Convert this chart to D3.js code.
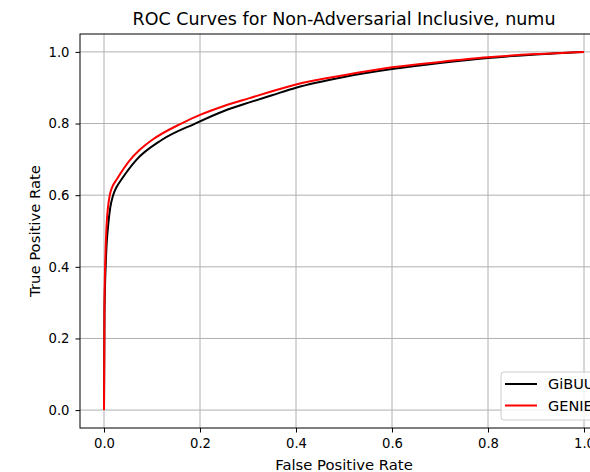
<!DOCTYPE html>
<html lang="en">
<head>
    <meta charset="UTF-8">
    <title>ROC Curves</title>
    <style>
        body { margin: 0; background: #fff; }
        text { font-family: "DejaVu Sans", sans-serif; fill: #000; }
    </style>
</head>
<body>
<div id="chart"></div>
<script src="https://cdn.jsdelivr.net/npm/d3@7"></script>
<script>
    const width = 590,
        height = 472;
    const margin = {"top": 34, "left": 80, "bottom": 44, "right": -18};

    // values
    const seriesNames = ["GiBUU", "GENIE"];
    const seriesColors = ["black", "red"];
    const gibuuFpr = [0, 0.001, 0.004, 0.009, 0.013, 0.019, 0.026, 0.036, 0.067, 0.12, 0.19, 0.25, 0.303, 0.35, 0.4, 0.5, 0.6, 0.7, 0.8, 0.9, 1.0];
    const gibuuTpr = [0, 0.27, 0.42, 0.52, 0.565, 0.6, 0.622, 0.643, 0.698, 0.754, 0.8, 0.835, 0.859, 0.879, 0.9, 0.93, 0.952, 0.969, 0.983, 0.993, 1.0];
    const genieFpr = [0, 0.001, 0.003, 0.006, 0.008, 0.012, 0.018, 0.026, 0.054, 0.074, 0.1, 0.161, 0.2, 0.25, 0.303, 0.35, 0.4, 0.5, 0.6, 0.7, 0.8, 0.9, 1.0];
    const genieTpr = [0, 0.3, 0.43, 0.53, 0.562, 0.6, 0.625, 0.643, 0.698, 0.726, 0.754, 0.8, 0.824, 0.849, 0.871, 0.89, 0.909, 0.935, 0.957, 0.972, 0.985, 0.994, 1.0];
    const xTicks = [0, 0.2, 0.4, 0.6, 0.8, 1.0];
    const yTicks = [0, 0.2, 0.4, 0.6, 0.8, 1.0];

    const series = [
        gibuuFpr.map((x, i) => ({"x": x, "y": gibuuTpr[i]})),
        genieFpr.map((x, i) => ({"x": x, "y": genieTpr[i]}))
    ];

    const innerW = width - margin.left - margin.right,
        innerH = height - margin.top - margin.bottom;

    const xScale = d3.scaleLinear().domain([-0.05, 1.05]).range([0, innerW]);
    const yScale = d3.scaleLinear().domain([-0.05, 1.05]).range([innerH, 0]);

    const line = d3.line()
        .x(d => xScale(d.x))
        .y(d => yScale(d.y))
        .curve(d3.curveMonotoneX);

    const svg = d3.select("#chart")
        .append("svg")
        .attr("width", width)
        .attr("height", height)
        .style("display", "block")
        .style("background-color", "#fff");

    const g = svg.append("g")
        .attr("transform", `translate(${margin.left},${margin.top})`);

    // grid
    g.append("g")
        .selectAll("line")
        .data(xTicks)
        .join("line")
        .attr("x1", d => xScale(d)).attr("x2", d => xScale(d))
        .attr("y1", 0).attr("y2", innerH)
        .style("stroke", "#b0b0b0").style("stroke-width", 1);
    g.append("g")
        .selectAll("line")
        .data(yTicks)
        .join("line")
        .attr("x1", 0).attr("x2", innerW)
        .attr("y1", d => yScale(d)).attr("y2", d => yScale(d))
        .style("stroke", "#b0b0b0").style("stroke-width", 1);

    // curves
    g.append("g")
        .selectAll("path")
        .data(series)
        .join("path")
        .attr("d", line)
        .style("fill", "none")
        .style("stroke", (d, i) => seriesColors[i])
        .style("stroke-width", 2);

    // axes
    const xAxis = d3.axisBottom(xScale).tickValues(xTicks).tickFormat(d3.format(".1f")).tickSize(4.5).tickPadding(6);
    const yAxis = d3.axisLeft(yScale).tickValues(yTicks).tickFormat(d3.format(".1f")).tickSize(4.5).tickPadding(6);

    g.append("g")
        .attr("transform", `translate(0,${innerH})`)
        .call(xAxis)
        .call(a => a.select(".domain").remove());
    g.append("g")
        .call(yAxis)
        .call(a => a.select(".domain").remove());
    g.selectAll(".tick text").style("font-size", "13.2px").style("fill", "#000");
    g.selectAll(".tick line").style("stroke", "#000");

    // frame
    g.append("rect")
        .attr("x", 0).attr("y", 0)
        .attr("width", innerW).attr("height", innerH)
        .style("fill", "none").style("stroke", "#000").style("stroke-width", 1);

    // title and labels
    svg.append("text")
        .attr("x", margin.left + innerW / 2).attr("y", 25)
        .attr("text-anchor", "middle")
        .style("font-size", "17.5px")
        .text("ROC Curves for Non-Adversarial Inclusive, numu");
    svg.append("text")
        .attr("x", margin.left + innerW / 2).attr("y", 470)
        .attr("text-anchor", "middle")
        .style("font-size", "14.8px")
        .text("False Positive Rate");
    svg.append("text")
        .attr("transform", `translate(39.5,${margin.top + innerH / 2}) rotate(-90)`)
        .attr("text-anchor", "middle")
        .style("font-size", "14.8px")
        .text("True Positive Rate");

    // legend
    const legend = svg.append("g").attr("transform", "translate(501,372)");
    legend.append("rect")
        .attr("width", 120).attr("height", 48)
        .attr("rx", 3)
        .style("fill", "#fff").style("fill-opacity", 0.8)
        .style("stroke", "#ccc");
    const item = legend.selectAll(".item")
        .data(seriesNames)
        .join("g")
        .attr("transform", (d, i) => `translate(0,${12 + i * 21.5})`);
    item.append("line")
        .attr("x1", 4).attr("x2", 36)
        .style("stroke", (d, i) => seriesColors[i])
        .style("stroke-width", 2);
    item.append("text")
        .attr("x", 47).attr("y", 5)
        .style("font-size", "14.5px")
        .text(d => d);
</script>
</body>
</html>
